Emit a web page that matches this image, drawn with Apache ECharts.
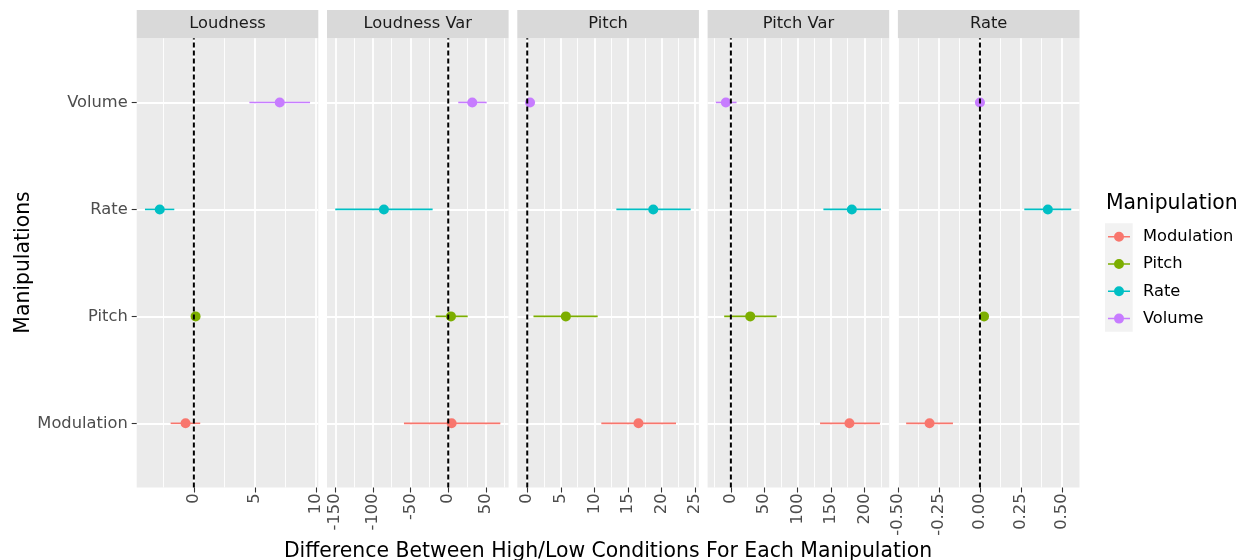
<!DOCTYPE html>
<html>
<head>
<meta charset="utf-8">
<script src="https://cdn.jsdelivr.net/npm/echarts@6.0.0/dist/echarts.min.js"></script>
<style>
  html, body { margin: 0; padding: 0; background: #fff; }
  #chart { width: 1243px; height: 560px; }
</style>
</head>
<body>
<div id="chart"></div>
<script>
// categories (y axis, bottom to top) and facets
const manipulations = ["Modulation", "Pitch", "Rate", "Volume"];
const facets = ["Loudness", "Loudness Var", "Pitch", "Pitch Var", "Rate"];
const colors = ["#F8766D", "#7CAE00", "#00BFC4", "#C77CFF"];

// estimate / lower / upper, in manipulations order
const loudnessEst = [-0.68, 0.14, -2.79, 7.02];
const loudnessLow = [-1.9, 0.04, -4.0, 4.54];
const loudnessHigh = [0.52, 0.24, -1.6, 9.5];

const loudnessVarEst = [4.5, 3.6, -85.4, 31.9];
const loudnessVarLow = [-58.8, -16.7, -150, 13.3];
const loudnessVarHigh = [69.2, 25.8, -20.7, 51];

const pitchEst = [16.56, 5.75, 18.76, 0.42];
const pitchLow = [11.03, 0.93, 13.27, -0.25];
const pitchHigh = [22.15, 10.49, 24.33, 1.1];

const pitchVarEst = [177.6, 29, 181.2, -7.5];
const pitchVarLow = [133.6, -10, 138.6, -22.5];
const pitchVarHigh = [223.3, 68.6, 224.8, 8.5];

const rateEst = [-0.308, 0.025, 0.415, 0.0];
const rateLow = [-0.451, 0.0, 0.271, -0.02];
const rateHigh = [-0.165, 0.05, 0.558, 0.02];

// x tick labels per facet
const loudnessTicks = [0, 5, 10];
const loudnessVarTicks = [-150, -100, -50, 0, 50];
const pitchTicks = [0, 5, 10, 15, 20, 25];
const pitchVarTicks = [0, 50, 100, 150, 200];
const rateTicks = [-0.5, -0.25, 0, 0.25, 0.5];

const estimates = [loudnessEst, loudnessVarEst, pitchEst, pitchVarEst, rateEst];
const lows = [loudnessLow, loudnessVarLow, pitchLow, pitchVarLow, rateLow];
const highs = [loudnessHigh, loudnessVarHigh, pitchHigh, pitchVarHigh, rateHigh];
const ticks = [loudnessTicks, loudnessVarTicks, pitchTicks, pitchVarTicks, rateTicks];

const FONT = "DejaVu Sans";
const SMALL = 16.3, BIG = 20.4;
const panelLeft = 136.7, panelStep = 190.3, panelWidth = 181.6;
const panelTop = 38.3, panelHeight = 449.2;
const yMin = 0.4, yMax = 4.6;

const chart = echarts.init(document.getElementById("chart"));

const grids = [], xAxes = [], yAxes = [], series = [], graphics = [];

facets.forEach(function (facet, p) {
  const left = panelLeft + p * panelStep;
  grids.push({
    left: left, top: panelTop, width: panelWidth, height: panelHeight,
    show: true, backgroundColor: "#EBEBEB", borderWidth: 0
  });

  // ggplot-like range: data range expanded by 5% each side
  const lo = Math.min.apply(null, lows[p]);
  const hi = Math.max.apply(null, highs[p]);
  const pad = (hi - lo) * 0.05;
  const xmin = lo - pad, xmax = hi + pad;

  // minor grid lines halfway between breaks
  const major = ticks[p];
  const step = major[1] - major[0];
  const minor = [];
  for (let k = -4; k <= major.length + 4; k++) {
    const m = major[0] + (k + 0.5) * step;
    if (m > xmin && m < xmax) minor.push(m);
  }

  xAxes.push({
    type: "value", gridIndex: p, min: xmin, max: xmax, position: "bottom",
    axisLine: { show: false, onZero: false },
    axisTick: { show: true, length: 5, lineStyle: { color: "#333", width: 1.1 }, customValues: major },
    axisLabel: {
      customValues: major, rotate: 90, margin: 6,
      color: "#4D4D4D", fontSize: SMALL, fontFamily: FONT,
      showMinLabel: true, showMaxLabel: true,
      formatter: function (v) { return p === 4 ? v.toFixed(2) : String(v); }
    },
    splitLine: { show: true, lineStyle: { color: "#FFFFFF", width: 1.8 } }
  });
  xAxes.push({
    type: "value", gridIndex: p, min: xmin, max: xmax, position: "bottom",
    axisLine: { show: false, onZero: false },
    axisTick: { show: false, customValues: minor },
    axisLabel: { show: false, customValues: minor },
    splitLine: { show: true, lineStyle: { color: "#FFFFFF", width: 0.9 } }
  });

  yAxes.push({
    type: "value", gridIndex: p, min: yMin, max: yMax, position: "left",
    axisLine: { show: false, onZero: false },
    axisTick: { show: p === 0, length: 5, lineStyle: { color: "#333", width: 1.1 }, customValues: [1, 2, 3, 4] },
    axisLabel: {
      show: p === 0, customValues: [1, 2, 3, 4], margin: 9,
      color: "#4D4D4D", fontSize: SMALL, fontFamily: FONT,
      formatter: function (v) { return manipulations[Math.round(v) - 1]; }
    },
    splitLine: { show: true, lineStyle: { color: "#FFFFFF", width: 1.8 } }
  });

  manipulations.forEach(function (m, i) {
    series.push({
      name: m, type: "custom", xAxisIndex: p * 2, yAxisIndex: p,
      color: colors[i], z: 3,
      encode: { x: [0, 2, 3], y: 1 },
      data: [[estimates[p][i], i + 1, lows[p][i], highs[p][i]]],
      renderItem: function (params, api) {
        const y = api.value(1);
        const a = api.coord([api.value(2), y]);
        const b = api.coord([api.value(3), y]);
        const c = api.coord([api.value(0), y]);
        const col = api.visual("color");
        return {
          type: "group",
          children: [
            { type: "line", shape: { x1: a[0], y1: a[1], x2: b[0], y2: b[1] }, style: { stroke: col, lineWidth: 1.6 } },
            { type: "circle", shape: { cx: c[0], cy: c[1], r: 5 }, style: { fill: col } }
          ]
        };
      }
    });
  });

  // dashed reference line at zero
  series.push({
    name: "zero", type: "custom", xAxisIndex: p * 2, yAxisIndex: p, z: 6,
    data: [[0]],
    renderItem: function (params, api) {
      const a = api.coord([0, yMin]);
      const b = api.coord([0, yMax]);
      return { type: "line", shape: { x1: a[0], y1: a[1], x2: b[0], y2: b[1] },
        style: { stroke: "#000", lineWidth: 2, lineDash: [5, 3] } };
    }
  });

  // facet strip
  graphics.push({ type: "rect", shape: { x: left, y: 10, width: panelWidth, height: 28.3 }, style: { fill: "#D9D9D9" }, z: 0 });
  graphics.push({
    type: "text", x: left + panelWidth / 2, y: 24.2,
    style: { text: facet, align: "center", verticalAlign: "middle", fill: "#1A1A1A", fontSize: SMALL, fontFamily: FONT }
  });
});

// axis titles
graphics.push({
  type: "text", x: 608, y: 552,
  style: { text: "Difference Between High/Low Conditions For Each Manipulation", align: "center", verticalAlign: "middle", fill: "#000", fontSize: BIG, fontFamily: FONT }
});
graphics.push({
  type: "text", x: 23.5, y: 262.5, rotation: Math.PI / 2,
  style: { text: "Manipulations", align: "center", verticalAlign: "middle", fill: "#000", fontSize: BIG, fontFamily: FONT }
});
// legend title and key background
graphics.push({
  type: "text", x: 1106, y: 203.5,
  style: { text: "Manipulation", align: "left", verticalAlign: "middle", fill: "#000", fontSize: BIG, fontFamily: FONT }
});
graphics.push({ type: "rect", shape: { x: 1105, y: 223.3, width: 27.7, height: 108.4 }, style: { fill: "#F2F2F2" }, z: -1 });

const keyIcon = "path://M0,4.25H22V5.75H0Z M11,0A5,5 0 1 1 11,10A5,5 0 1 1 11,0Z";

chart.setOption({
  animation: false,
  backgroundColor: "#FFFFFF",
  grid: grids,
  xAxis: xAxes,
  yAxis: yAxes,
  legend: {
    orient: "vertical", left: 1108, top: 228.7, padding: 0,
    itemWidth: 22, itemHeight: 10, itemGap: 11.3,
    icon: keyIcon,
    data: manipulations,
    textStyle: { color: "#000", fontSize: SMALL, fontFamily: FONT, lineHeight: 16, padding: [0, 0, 0, 8] }
  },
  graphic: graphics,
  series: series
});
</script>
</body>
</html>
